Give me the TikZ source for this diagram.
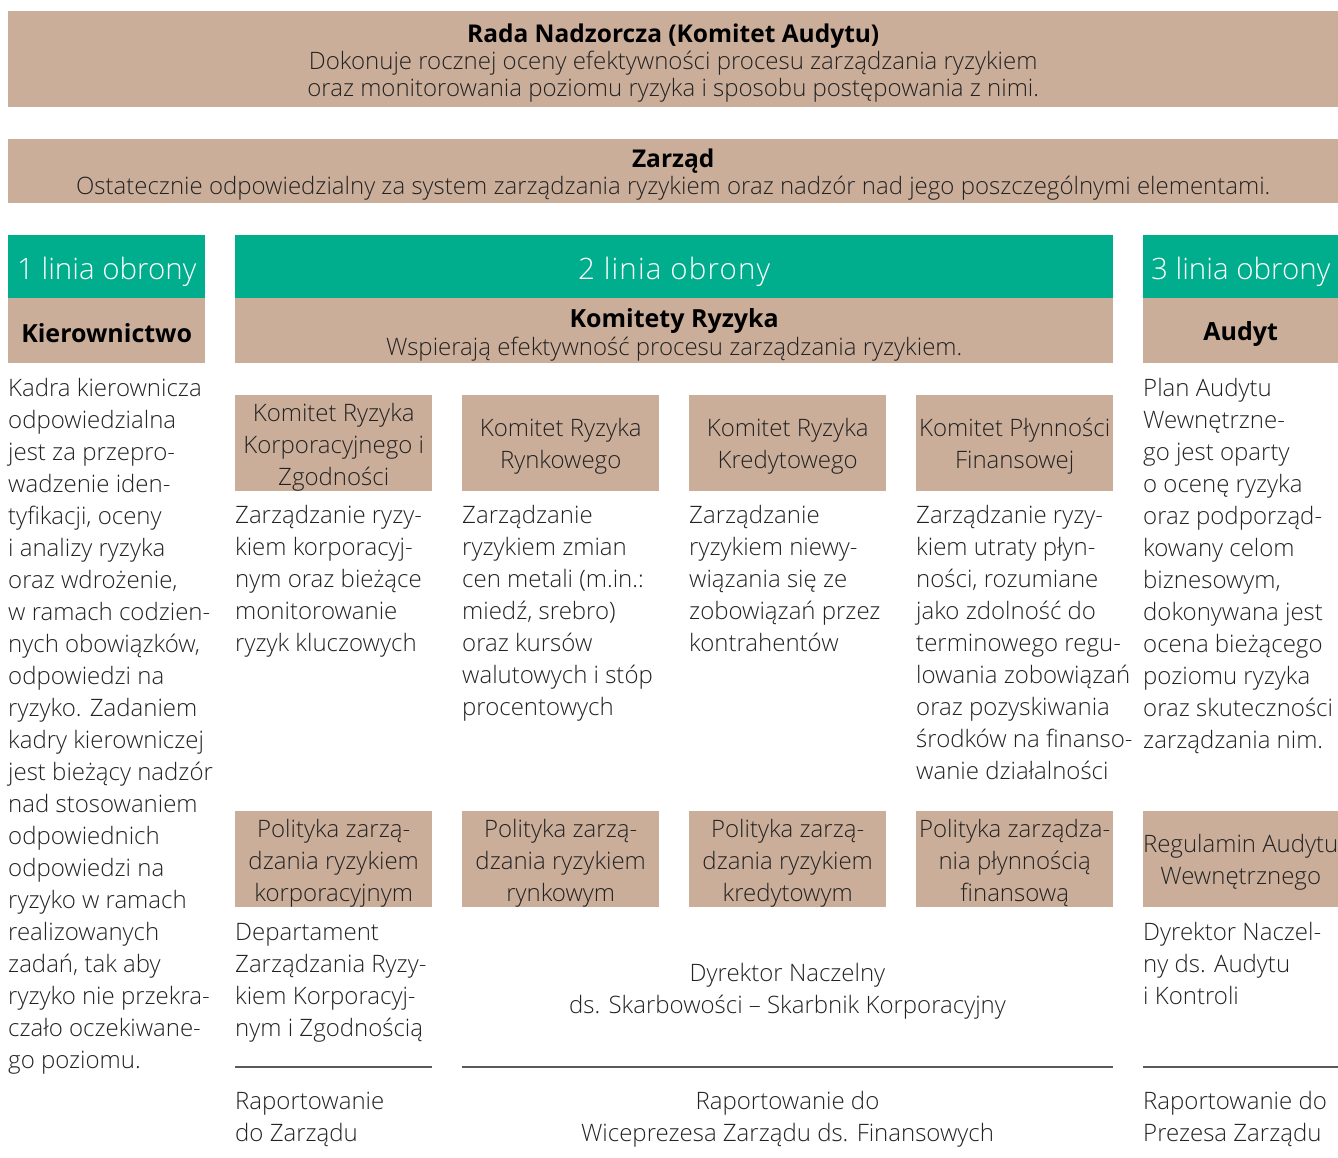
\documentclass[tikz,border=0pt]{standalone}
\usepackage{fontspec}
\newcommand{\bsz}{24.5}
\newcommand{\bszb}{25}
\newcommand{\tsz}{23}
\newcommand{\bsize}{23}
\IfFontExistsTF{Open Sans Light}{%
  \IfFontExistsTF{Open Sans ExtraBold}{%
    \setmainfont{Open Sans Light}[BoldFont={Open Sans ExtraBold}]%
    \renewcommand{\bsz}{22.5}\renewcommand{\bszb}{23}}{%
    \setmainfont{Open Sans Light}[BoldFont={Open Sans Bold}]}%
  \renewcommand{\tsz}{24}\renewcommand{\bsize}{24}}{%
  \setmainfont{Open Sans}}
\definecolor{tanc}{HTML}{CBAE9A}
\definecolor{grnc}{HTML}{00AE8E}
\definecolor{txtc}{HTML}{222222}
\definecolor{rulec}{HTML}{5A5A5A}
\newcommand{\bodyfont}{\fontsize{\bsize}{32}\selectfont}
\newcommand{\lblock}[2]{\parbox[t]{#1}{\raggedright #2}}
\newcommand{\cblock}[2]{\parbox[t]{#1}{\centering #2}}
% name, x, y, w, h, fill style, text style, shift, text
\newcommand{\blockbox}[9]{%
  \node[#6, minimum width=#4pt, minimum height=#5pt] (#1) at (#2,#3) {};
  \node[#7, yshift=#8] (#1-t) at (#1.center) {#9};}
\begin{document}
\begin{tikzpicture}[x=1pt,y=-1pt,
  tanbox/.style={fill=tanc, draw=none, inner sep=0pt, anchor=north west},
  grnbox/.style={fill=grnc, draw=none, inner sep=0pt, anchor=north west},
  boxtxt/.style={inner sep=0pt, text=txtc, align=center, font=\bodyfont},
  hdrtxt/.style={inner sep=0pt, text=white, align=center, font=\fontsize{29.5}{34}\selectfont},
  bodytxt/.style={inner sep=0pt, text=txtc, font=\bodyfont},
  rulel/.style={draw=rulec, line width=1.5pt}]
\useasboundingbox (0,0) rectangle (1338,1158);

% top boxes
\blockbox{rada}{8}{11}{1330}{96}{tanbox}{boxtxt, font=\fontsize{\tsz}{27}\selectfont}{-4pt}
  {{\fontsize{\bsz}{27}\selectfont\bfseries\color{black}Rada Nadzorcza (Komitet Audytu)}\\Dokonuje rocznej oceny efektywności procesu zarządzania ryzykiem\\oraz monitorowania poziomu ryzyka i sposobu postępowania z nimi.}
\blockbox{zarzad}{8}{139}{1330}{64}{tanbox}{boxtxt, font=\fontsize{\tsz}{27}\selectfont}{-3pt}
  {{\fontsize{\bsz}{27}\selectfont\bfseries\color{black}Zarząd}\\Ostatecznie odpowiedzialny za system zarządzania ryzykiem oraz nadzór nad jego poszczególnymi elementami.}

% column headers
\blockbox{h1}{8}{235}{197}{63}{grnbox}{hdrtxt}{-5pt}{1 linia obrony}
\blockbox{h2}{235}{235}{878}{63}{grnbox}{hdrtxt}{-5pt}{\addfontfeature{LetterSpace=4}2 linia obrony}
\blockbox{h3}{1143}{235}{195}{63}{grnbox}{hdrtxt}{-5pt}{3 linia obrony}

\blockbox{t1}{8}{298}{197}{65}{tanbox}{boxtxt, text=black, font=\fontsize{\bszb}{28}\selectfont\bfseries}{-2pt}{Kierownictwo}
\blockbox{t2}{235}{298}{878}{65}{tanbox}{boxtxt, font=\fontsize{\tsz}{28}\selectfont}{-4pt}
  {{\fontsize{\bszb}{28}\selectfont\bfseries\color{black}Komitety Ryzyka}\\Wspierają efektywność procesu zarządzania ryzykiem.}
\blockbox{t3}{1143}{298}{195}{65}{tanbox}{boxtxt, text=black, font=\fontsize{\bszb}{28}\selectfont\bfseries}{-3pt}{Audyt}

% column 1 text
\node[bodytxt, anchor=base west] (c1txt) at (8,396) {\lblock{260pt}{Kadra kierownicza\\odpowiedzialna\\jest za przepro-\\wadzenie iden-\\tyfikacji, oceny\\i analizy ryzyka\\oraz wdrożenie,\\w ramach codzien-\\nych obowiązków,\\odpowiedzi na\\ryzyko. Zadaniem\\kadry kierowniczej\\jest bieżący nadzór\\nad stosowaniem\\odpowiednich\\odpowiedzi na\\ryzyko w ramach\\realizowanych\\zadań, tak aby\\ryzyko nie przekra-\\czało oczekiwane-\\go poziomu.}};

% committee boxes
\blockbox{k1}{235}{395}{197}{96}{tanbox}{boxtxt}{-4pt}{Komitet Ryzyka\\Korporacyjnego i\\Zgodności}
\blockbox{k2}{462}{395}{197}{96}{tanbox}{boxtxt}{-3pt}{Komitet Ryzyka\\Rynkowego}
\blockbox{k3}{689}{395}{197}{96}{tanbox}{boxtxt}{-3pt}{Komitet Ryzyka\\Kredytowego}
\blockbox{k4}{916}{395}{197}{96}{tanbox}{boxtxt}{-3pt}{Komitet Płynności\\Finansowej}

\node[bodytxt, anchor=base west] (d1) at (235,523) {\lblock{260pt}{Zarządzanie ryzy-\\kiem korporacyj-\\nym oraz bieżące\\monitorowanie\\ryzyk kluczowych}};
\node[bodytxt, anchor=base west] (d2) at (462,523) {\lblock{260pt}{Zarządzanie\\ryzykiem zmian\\cen metali (m.in.:\\miedź, srebro)\\oraz kursów\\walutowych i stóp\\procentowych}};
\node[bodytxt, anchor=base west] (d3) at (689,523) {\lblock{260pt}{Zarządzanie\\ryzykiem niewy-\\wiązania się ze\\zobowiązań przez\\kontrahentów}};
\node[bodytxt, anchor=base west] (d4) at (916,523) {\lblock{260pt}{Zarządzanie ryzy-\\kiem utraty płyn-\\ności, rozumiane\\jako zdolność do\\terminowego regu-\\lowania zobowiązań\\oraz pozyskiwania\\środków na finanso-\\wanie działalności}};

% column 3 text
\node[bodytxt, anchor=base west] (c3txt) at (1143,396) {\lblock{260pt}{Plan Audytu\\Wewnętrzne-\\go jest oparty\\o ocenę ryzyka\\oraz podporząd-\\kowany celom\\biznesowym,\\dokonywana jest\\ocena bieżącego\\poziomu ryzyka\\oraz skuteczności\\zarządzania nim.}};

% policy boxes
\blockbox{p1}{235}{811}{197}{96}{tanbox}{boxtxt}{-4pt}{Polityka zarzą-\\dzania ryzykiem\\korporacyjnym}
\blockbox{p2}{462}{811}{197}{96}{tanbox}{boxtxt}{-4pt}{Polityka zarzą-\\dzania ryzykiem\\rynkowym}
\blockbox{p3}{689}{811}{197}{96}{tanbox}{boxtxt}{-4pt}{Polityka zarzą-\\dzania ryzykiem\\kredytowym}
\blockbox{p4}{916}{811}{197}{96}{tanbox}{boxtxt}{-4pt}{Polityka zarządza-\\nia płynnością\\finansową}
\blockbox{p5}{1143}{811}{195}{96}{tanbox}{boxtxt}{-3pt}{Regulamin Audytu\\Wewnętrznego}

% owners
\node[bodytxt, anchor=base west] (o1) at (235,940) {\lblock{260pt}{Departament\\Zarządzania Ryzy-\\kiem Korporacyj-\\nym i Zgodnością}};
\node[bodytxt, anchor=base] (o2) at (787.5,981) {\cblock{600pt}{Dyrektor Naczelny\\ds. Skarbowości – Skarbnik Korporacyjny}};
\node[bodytxt, anchor=base west] (o3) at (1143,940) {\lblock{260pt}{Dyrektor Naczel-\\ny ds. Audytu\\i Kontroli}};

% rules
\coordinate (r1a) at (235,1067); \coordinate (r1b) at (432,1067);
\coordinate (r2a) at (462,1067); \coordinate (r2b) at (1113,1067);
\coordinate (r3a) at (1143,1067); \coordinate (r3b) at (1338,1067);
\draw[rulel] (r1a) -- (r1b);
\draw[rulel] (r2a) -- (r2b);
\draw[rulel] (r3a) -- (r3b);

% reporting
\node[bodytxt, anchor=base west] (rep1) at (235,1109) {\lblock{260pt}{Raportowanie\\do Zarządu}};
\node[bodytxt, anchor=base] (rep2) at (787.5,1109) {\cblock{600pt}{Raportowanie do\\Wiceprezesa Zarządu ds. Finansowych}};
\node[bodytxt, anchor=base west] (rep3) at (1143,1109) {\lblock{260pt}{Raportowanie do\\Prezesa Zarządu}};
\end{tikzpicture}
\end{document}
